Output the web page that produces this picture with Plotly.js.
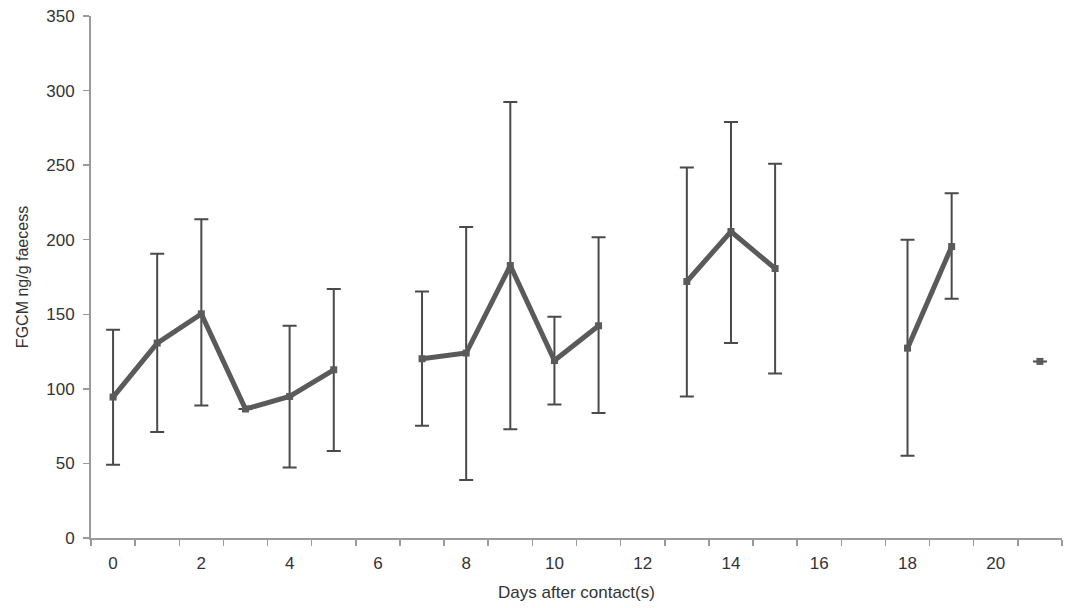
<!DOCTYPE html>
<html>
<head>
<meta charset="utf-8">
<script src="https://cdn.plot.ly/plotly-3.0.1.min.js"></script>
<style>html,body{margin:0;padding:0;background:#fff}#chart{width:1068px;height:608px}</style>
</head>
<body>
<div id="chart"></div>
<script>
const days = [0,1,2,3,4,5,6,7,8,9,10,11,12,13,14,15,16,17,18,19,20,21];
const means = [94.5,130.7,150.3,86.5,94.9,112.8,null,120.2,124,182.7,119,142.3,null,172,205.5,180.7,null,null,127.3,195.4,null,118.4];
const upper = [139.6,190.6,213.8,null,142.3,166.9,null,165.3,208.6,292.4,148.3,201.7,null,248.4,279,250.9,null,null,200,231.2,null,null];
const lower = [49.1,71,88.9,null,47.3,58.3,null,75.3,38.9,73,89.5,83.8,null,94.9,130.7,110.3,null,null,55.2,160.4,null,null];
const xTickVals = [0,2,4,6,8,10,12,14,16,18,20];
const xTickText = ["0","2","4","6","8","10","12","14","16","18","20"];
const yTickVals = [0,50,100,150,200,250,300,350];

const errPlus = means.map((m,i)=> (m!==null && upper[i]!==null) ? upper[i]-m : null);
const errMinus = means.map((m,i)=> (m!==null && lower[i]!==null) ? m-lower[i] : null);

const trace = {
  x: days, y: means, type: 'scatter', mode: 'lines+markers',
  connectgaps: false,
  line: {color:'#5a5a5a', width:5},
  marker: {symbol:'square', size:7, color:'#5a5a5a'},
  error_y: {type:'data', symmetric:false, array: errPlus, arrayminus: errMinus,
            color:'#4a4a4a', thickness:2, width:7},
  showlegend:false, hoverinfo:'x+y'
};

const layout = {
  width:1068, height:608,
  margin:{l:91, r:6, t:16, b:70},
  paper_bgcolor:'#fff', plot_bgcolor:'#fff',
  font:{family:'Liberation Sans, Arial, sans-serif', color:'#333', size:17},
  xaxis:{
    range:[-0.5,21.5], showgrid:false, zeroline:false,
    showline:true, linecolor:'#9a9a9a', linewidth:2,
    tickmode:'array', tickvals:xTickVals, ticktext:xTickText, ticks:'',
    ticklabelstandoff:9,
    minor:{ticks:'outside', tick0:0.5, dtick:1, ticklen:6, tickcolor:'#9a9a9a', tickwidth:1.5, showgrid:false},
    title:{text:'Days after contact(s)', font:{size:17, color:'#333'}, standoff:14}
  },
  yaxis:{
    range:[0,350], showgrid:false, zeroline:false,
    showline:true, linecolor:'#9a9a9a', linewidth:2,
    tickmode:'array', tickvals:yTickVals, ticks:'outside', ticklen:6, tickcolor:'#9a9a9a', tickwidth:1.5,
    ticklabelstandoff:5,
    title:{text:'FGCM ng/g faecess', font:{size:16, color:'#333'}, standoff:14}
  }
};

Plotly.newPlot('chart', [trace], layout, {staticPlot:true, displayModeBar:false});
</script>
</body>
</html>
